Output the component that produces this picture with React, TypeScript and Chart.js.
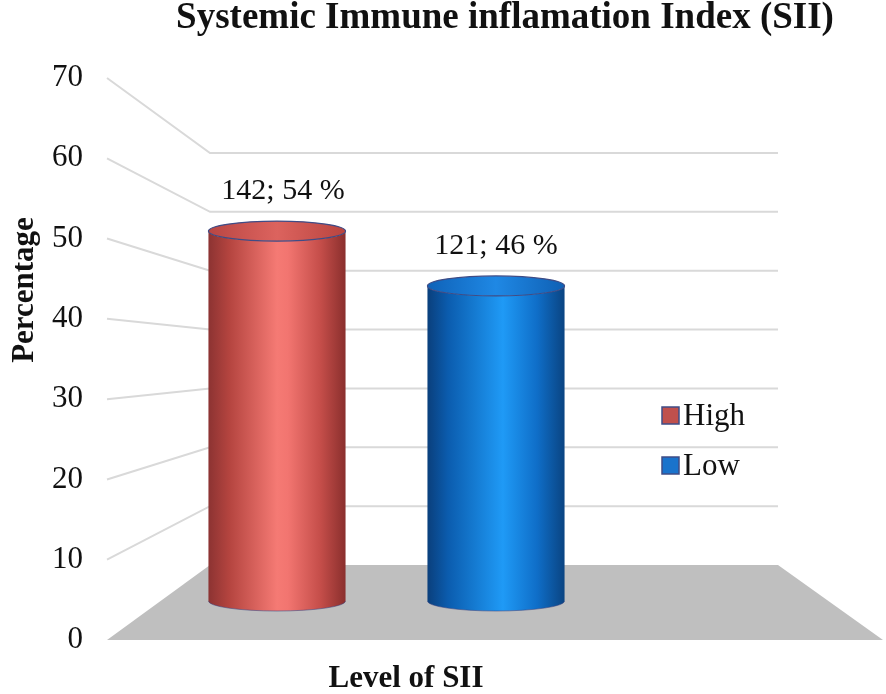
import React, { useEffect, useRef } from "react";
import { Chart, registerables } from "chart.js";

Chart.register(...registerables);

// ---- data ----
const categories = ["Level of SII"];
const seriesNames = ["High", "Low"];
const percentValues = [54, 46];
const countValues = [142, 121];
const yTickMin = 0;
const yTickMax = 70;
const yTickStep = 10;
const chartTitle = "Systemic Immune inflamation Index (SII)";
const yAxisTitle = "Percentage";
const xAxisTitle = "Level of SII";

// ---- styles ----
const seriesColors = ["#c0504d", "#1a73cc"];
const bodyStops = [
  [
    [0, "#8c3332"],
    [0.15, "#b4443f"],
    [0.5, "#f57a74"],
    [0.58, "#f27570"],
    [0.82, "#c44d49"],
    [1, "#8a2f2d"],
  ],
  [
    [0, "#0a3f7c"],
    [0.15, "#0b5cae"],
    [0.55, "#1f9af6"],
    [0.8, "#0f6ec8"],
    [1, "#0a4482"],
  ],
];
const capStops = [
  [
    [0, "#b94643"],
    [0.5, "#dc635e"],
    [1, "#b9443f"],
  ],
  [
    [0, "#0f62b8"],
    [0.5, "#1f88e4"],
    [1, "#0f60b4"],
  ],
];
const SERIF = "'Liberation Serif', 'Times New Roman', serif";

function cylinderGradient(ctx: CanvasRenderingContext2D, left: number, right: number, stops: any[]) {
  const g = ctx.createLinearGradient(left, 0, right, 0);
  stops.forEach(([o, c]) => g.addColorStop(o, c));
  return g;
}

const threeDPlugin = {
  id: "threeD",
  beforeDatasetsDraw(chart: any) {
    const { ctx, chartArea } = chart;
    const yF = chart.scales.y;
    const yB = chart.scales.yBack;
    const L = chartArea.left + 2;
    const backL = chartArea.left + 105;
    const backR = chartArea.left + 673;
    const frontR = chartArea.left + 778;
    ctx.save();
    // gridlines (back wall + left wall)
    ctx.strokeStyle = "#d9d9d9";
    ctx.lineWidth = 2;
    yF.ticks.forEach((t: any) => {
      if (t.value <= yTickMin) return;
      const fy = yF.getPixelForValue(t.value);
      const by = yB.getPixelForValue(t.value);
      ctx.beginPath();
      ctx.moveTo(L, fy);
      ctx.lineTo(backL, by);
      ctx.lineTo(backR, by);
      ctx.stroke();
    });
    // floor
    const f0 = yF.getPixelForValue(0);
    const b0 = yB.getPixelForValue(0);
    ctx.fillStyle = "#bfbfbf";
    ctx.beginPath();
    ctx.moveTo(L, f0);
    ctx.lineTo(frontR, f0);
    ctx.lineTo(backR, b0);
    ctx.lineTo(backL, b0);
    ctx.closePath();
    ctx.fill();
    ctx.restore();
  },
  afterDatasetsDraw(chart: any) {
    const { ctx } = chart;
    const ry = 10;
    ctx.save();
    chart.data.datasets.forEach((ds: any, i: number) => {
      const meta = chart.getDatasetMeta(i);
      meta.data.forEach((el: any) => {
        const { x, y, base, width } = el.getProps(["x", "y", "base", "width"], true);
        const rx = width / 2;
        const left = x - rx;
        const right = x + rx;
        // body
        ctx.beginPath();
        ctx.moveTo(left, y);
        ctx.lineTo(left, base);
        ctx.ellipse(x, base, rx, ry, 0, Math.PI, 0, true);
        ctx.lineTo(right, y);
        ctx.ellipse(x, y, rx, ry, 0, 0, Math.PI, false);
        ctx.closePath();
        ctx.fillStyle = cylinderGradient(ctx, left, right, bodyStops[i]);
        ctx.fill();
        ctx.strokeStyle = "rgba(60,70,130,0.55)";
        ctx.lineWidth = 1;
        ctx.beginPath();
        ctx.ellipse(x, base, rx, ry, 0, Math.PI, 0, true);
        ctx.stroke();
        // cap
        ctx.beginPath();
        ctx.ellipse(x, y, rx, ry, 0, 0, Math.PI * 2);
        ctx.fillStyle = cylinderGradient(ctx, left, right, capStops[i]);
        ctx.fill();
        ctx.strokeStyle = "#3f4c86";
        ctx.lineWidth = 1.2;
        ctx.stroke();
        // label
        ctx.fillStyle = "#111";
        ctx.font = `30px ${SERIF}`;
        ctx.textAlign = "center";
        ctx.textBaseline = "alphabetic";
        ctx.fillText(`${countValues[i]}; ${percentValues[i]} %`, x + (i === 0 ? 6 : 0), y - ry - 22);
      });
    });
    ctx.restore();
  },
  afterDraw(chart: any) {
    const { ctx, chartArea } = chart;
    ctx.save();
    // title
    ctx.fillStyle = "#111";
    ctx.font = `bold 37px ${SERIF}`;
    ctx.textAlign = "center";
    ctx.textBaseline = "alphabetic";
    ctx.fillText(chartTitle, 505, 28);
    // x axis title
    ctx.font = `bold 31px ${SERIF}`;
    ctx.fillText(xAxisTitle, chartArea.left + 301, 687);
    // y axis title
    ctx.save();
    ctx.translate(33, 290);
    ctx.rotate(-Math.PI / 2);
    ctx.textBaseline = "alphabetic";
    ctx.fillText(yAxisTitle, 0, 0);
    ctx.restore();
    // legend
    ctx.font = `31px ${SERIF}`;
    ctx.textAlign = "left";
    ctx.textBaseline = "middle";
    seriesNames.forEach((name, i) => {
      const lx = chartArea.right - 6;
      const ly = 407 + i * 50;
      ctx.fillStyle = seriesColors[i];
      ctx.fillRect(lx, ly, 17, 17);
      ctx.strokeStyle = "#3f4c86";
      ctx.lineWidth = 1.5;
      ctx.strokeRect(lx, ly, 17, 17);
      ctx.fillStyle = "#111";
      ctx.fillText(name, lx + 21, ly + 10);
    });
    ctx.restore();
  },
};

export default function App() {
  const canvasRef = useRef<HTMLCanvasElement | null>(null);

  useEffect(() => {
    if (!canvasRef.current) return;
    const chart = new Chart(canvasRef.current, {
      type: "bar",
      data: {
        labels: categories,
        datasets: seriesNames.map((name, i) => ({
          label: name,
          data: [percentValues[i]],
          yAxisID: "yMid",
          backgroundColor: "rgba(0,0,0,0)",
          borderWidth: 0,
          categoryPercentage: 0.778,
          barPercentage: 0.626,
        })),
      },
      options: {
        responsive: false,
        animation: false,
        layout: { padding: { top: 78, right: 218, bottom: 54, left: 0 } },
        plugins: {
          legend: { display: false },
          title: { display: false },
          tooltip: { enabled: false },
        },
        scales: {
          x: { display: false },
          y: {
            position: "left",
            min: yTickMin,
            max: yTickMax,
            ticks: {
              stepSize: yTickStep,
              padding: 22,
              color: "#111",
              font: { family: SERIF, size: 31 },
            },
            grid: { display: false, drawTicks: false },
            border: { display: false },
            afterFit: (scale: any) => {
              scale.width = 105;
            },
          },
          yMid: { display: false, min: -5.69, max: 76.35 },
          yBack: { display: false, min: -12.74, max: 82.74 },
        },
      },
      plugins: [threeDPlugin],
    });
    return () => chart.destroy();
  }, []);

  return (
    <div style={{ position: "fixed", left: 0, top: 0, width: 886, height: 694, background: "#fff" }}>
      <canvas ref={canvasRef} width={886} height={694} />
    </div>
  );
}
